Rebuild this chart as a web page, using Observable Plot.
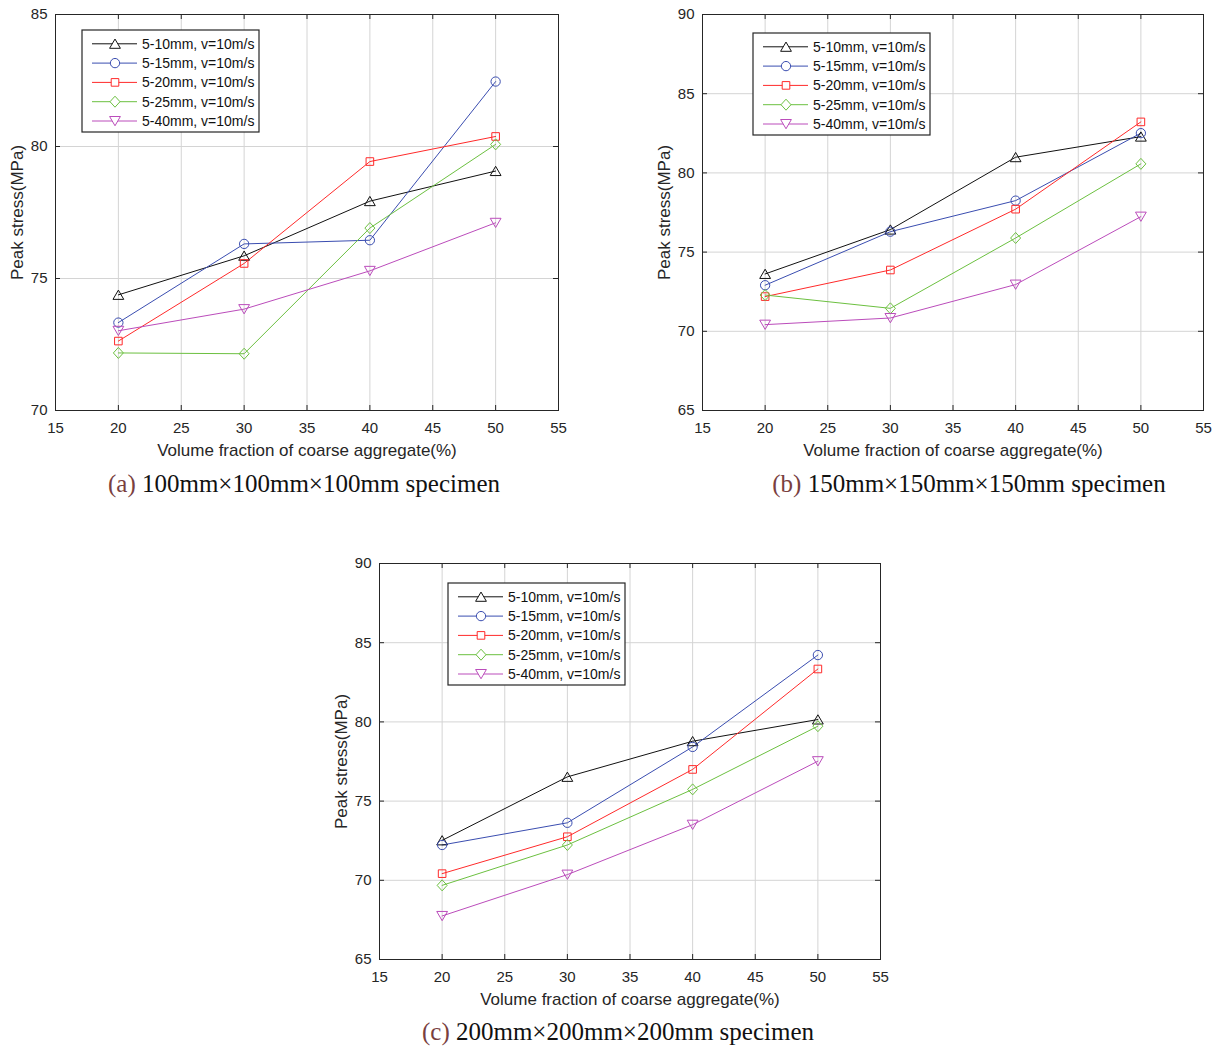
<!DOCTYPE html>
<html><head><meta charset="utf-8">
<script src="https://cdn.jsdelivr.net/npm/d3@7"></script>
<script src="https://cdn.jsdelivr.net/npm/@observablehq/plot@0.6"></script>
<style>
body{margin:0;background:#fff;width:1219px;height:1046px;position:relative;overflow:hidden;font-family:"Liberation Sans",Arial,sans-serif}
.panel{position:absolute}
.caption{position:absolute;font-family:"Liberation Serif","Times New Roman",serif;font-size:25px;white-space:nowrap;transform:translate(-50%,-50%);color:#111;line-height:1}
.caption .lab{color:#7a3f3f}
.legend{position:absolute}
</style>
</head><body>
<script>
// ---- data ----
const fractions = [20, 30, 40, 50];
const seriesNames = ["5-10mm, v=10m/s", "5-15mm, v=10m/s", "5-20mm, v=10m/s", "5-25mm, v=10m/s", "5-40mm, v=10m/s"];
const seriesColors = ["#111111", "#3a4db0", "#ff2a2a", "#6cc040", "#bb4cbb"];

// (a) 100mm specimen
const a_5_10 = [74.38, 75.86, 77.93, 79.07];
const a_5_15 = [73.33, 76.31, 76.45, 82.46];
const a_5_20 = [72.63, 75.57, 79.43, 80.38];
const a_5_25 = [72.18, 72.15, 76.91, 80.08];
const a_5_40 = [73.02, 73.84, 75.29, 77.11];
// (b) 150mm specimen
const b_5_10 = [73.62, 76.42, 80.99, 82.29];
const b_5_15 = [72.91, 76.29, 78.25, 82.51];
const b_5_20 = [72.19, 73.87, 77.71, 83.22];
const b_5_25 = [72.29, 71.45, 75.89, 80.57];
const b_5_40 = [70.42, 70.84, 72.95, 77.24];
// (c) 200mm specimen
const c_5_10 = [72.52, 76.53, 78.78, 80.15];
const c_5_15 = [72.23, 73.63, 78.42, 84.22];
const c_5_20 = [70.42, 72.75, 77.00, 83.34];
const c_5_25 = [69.68, 72.23, 75.74, 79.73];
const c_5_40 = [67.75, 70.36, 73.51, 77.52];

const xTicks = [15, 20, 25, 30, 35, 40, 45, 50, 55];
const yTicksA = [70, 75, 80, 85];
const yTicksBC = [65, 70, 75, 80, 85, 90];
const xLabel = "Volume fraction of coarse aggregate(%)";
const yLabel = "Peak stress(MPa)";
const captionLabels = ["(a)", "(b)", "(c)"];
const captionTexts = ["100mm×100mm×100mm specimen", "150mm×150mm×150mm specimen", "200mm×200mm×200mm specimen"];

// ---- MATLAB-like marker shapes ----
const rOf = s => Math.sqrt(s / Math.PI);
const symTriUp = {draw(c, s){const r = rOf(s); c.moveTo(0, -r*0.95); c.lineTo(r*1.08, r*0.9); c.lineTo(-r*1.08, r*0.9); c.closePath();}};
const symCircle = {draw(c, s){const r = rOf(s)*0.93; c.moveTo(r, 0); c.arc(0, 0, r, 0, 2*Math.PI);}};
const symSquare = {draw(c, s){const r = rOf(s)*0.76; c.rect(-r, -r, 2*r, 2*r);}};
const symDiamond = {draw(c, s){const r = rOf(s); c.moveTo(0, -r*1.1); c.lineTo(r, 0); c.lineTo(0, r*1.1); c.lineTo(-r, 0); c.closePath();}};
const symTriDown = {draw(c, s){const r = rOf(s); c.moveTo(0, r*0.95); c.lineTo(r*1.08, -r*0.9); c.lineTo(-r*1.08, -r*0.9); c.closePath();}};
const seriesSymbols = [symTriUp, symCircle, symSquare, symDiamond, symTriDown];
const R = 5;

function rowsOf(list){
  const out = [];
  list.forEach((vals, i) => vals.forEach((v, j) => out.push({series: seriesNames[i], x: fractions[j], y: v})));
  return out;
}

const ink = "#262626";
function makePanel({left, top, marginLeft, plotW, plotH, yDomain, yTicks, series, legend, caption}){
  const marginTop = 14, marginRight = 14, marginBottom = 52;
  const width = marginLeft + plotW + marginRight, height = marginTop + plotH + marginBottom;
  const data = rowsOf(series);
  const chart = Plot.plot({
    width, height, marginLeft, marginRight, marginTop, marginBottom,
    style: {fontFamily: "'Liberation Sans', Arial, sans-serif", fontSize: "15px", color: ink, background: "transparent", overflow: "visible"},
    x: {domain: [15, 55], label: null},
    y: {domain: yDomain, label: null},
    color: {domain: seriesNames, range: seriesColors},
    symbol: {domain: seriesNames, range: seriesSymbols},
    marks: [
      Plot.gridX(xTicks, {stroke: "#d4d4d4", strokeOpacity: 1, strokeWidth: 1}),
      Plot.gridY(yTicks, {stroke: "#d4d4d4", strokeOpacity: 1, strokeWidth: 1}),
      Plot.axisX(xTicks, {tickSize: 0, tickPadding: 12, label: null, fontSize: 15, fill: ink}),
      Plot.axisY(yTicks, {tickSize: 0, tickPadding: 8, label: null, fontSize: 15, fill: ink}),
      Plot.tickX(xTicks, {x: d => d, insetTop: plotH - 5, stroke: ink}),
      Plot.tickX(xTicks, {x: d => d, insetBottom: plotH - 5, stroke: ink}),
      Plot.tickY(yTicks, {y: d => d, insetRight: plotW - 5, stroke: ink}),
      Plot.tickY(yTicks, {y: d => d, insetLeft: plotW - 5, stroke: ink}),
      Plot.line(data, {x: "x", y: "y", z: "series", stroke: "series", strokeWidth: 1}),
      Plot.dot(data, {x: "x", y: "y", stroke: "series", symbol: "series", r: R, fill: "none", strokeWidth: 1}),
      Plot.frame({stroke: ink, strokeWidth: 1}),
      Plot.text([xLabel], {frameAnchor: "bottom", dy: 40, lineAnchor: "middle", fontSize: 17, fill: ink}),
      Plot.text([yLabel], {frameAnchor: "left", dx: -38, rotate: -90, lineAnchor: "middle", textAnchor: "middle", fontSize: 17, fill: ink})
    ]
  });
  const div = document.createElement("div");
  div.className = "panel";
  div.style.left = left + "px"; div.style.top = top + "px";
  div.appendChild(chart);
  document.body.appendChild(div);

  // legend box inside the axes (MATLAB style)
  const lw = 177, lh = 102;
  const svg = d3.select(document.body).append("svg").attr("class", "legend")
    .attr("width", lw + 2).attr("height", lh + 2)
    .style("left", (legend.x - 1) + "px").style("top", (legend.y - 1) + "px");
  svg.append("rect").attr("x", 1).attr("y", 1).attr("width", lw).attr("height", lh)
    .attr("fill", "#fff").attr("stroke", ink).attr("stroke-width", 1.2);
  seriesNames.forEach((name, i) => {
    const cy = 1 + 13.8 + i * 19.3;
    const g = svg.append("g");
    g.append("line").attr("x1", 11).attr("x2", 56).attr("y1", cy).attr("y2", cy)
      .attr("stroke", seriesColors[i]).attr("stroke-width", 1);
    g.append("path").attr("d", d3.symbol(seriesSymbols[i], R * R * Math.PI)())
      .attr("transform", `translate(34,${cy})`).attr("fill", "#fff").attr("stroke", seriesColors[i]);
    g.append("text").attr("x", 61).attr("y", cy).attr("dy", "0.35em")
      .attr("font-family", "'Liberation Sans', Arial, sans-serif").attr("font-size", 14)
      .attr("fill", "#111").text(name);
  });

  const cap = document.createElement("div");
  cap.className = "caption";
  cap.style.left = caption.x + "px"; cap.style.top = caption.y + "px";
  cap.innerHTML = `<span class="lab">${caption.label}</span> ${caption.text}`;
  document.body.appendChild(cap);
}

makePanel({left: 0, top: 0, marginLeft: 55, plotW: 503, plotH: 396, yDomain: [70, 85], yTicks: yTicksA,
  series: [a_5_10, a_5_15, a_5_20, a_5_25, a_5_40],
  legend: {x: 82, y: 30}, caption: {x: 304, y: 483, label: captionLabels[0], text: captionTexts[0]}});
makePanel({left: 640, top: 0, marginLeft: 62, plotW: 501, plotH: 396, yDomain: [65, 90], yTicks: yTicksBC,
  series: [b_5_10, b_5_15, b_5_20, b_5_25, b_5_40],
  legend: {x: 753, y: 33}, caption: {x: 969, y: 483, label: captionLabels[1], text: captionTexts[1]}});
makePanel({left: 320, top: 549, marginLeft: 59, plotW: 501, plotH: 396, yDomain: [65, 90], yTicks: yTicksBC,
  series: [c_5_10, c_5_15, c_5_20, c_5_25, c_5_40],
  legend: {x: 448, y: 583}, caption: {x: 618, y: 1031, label: captionLabels[2], text: captionTexts[2]}});
</script>
</body></html>
